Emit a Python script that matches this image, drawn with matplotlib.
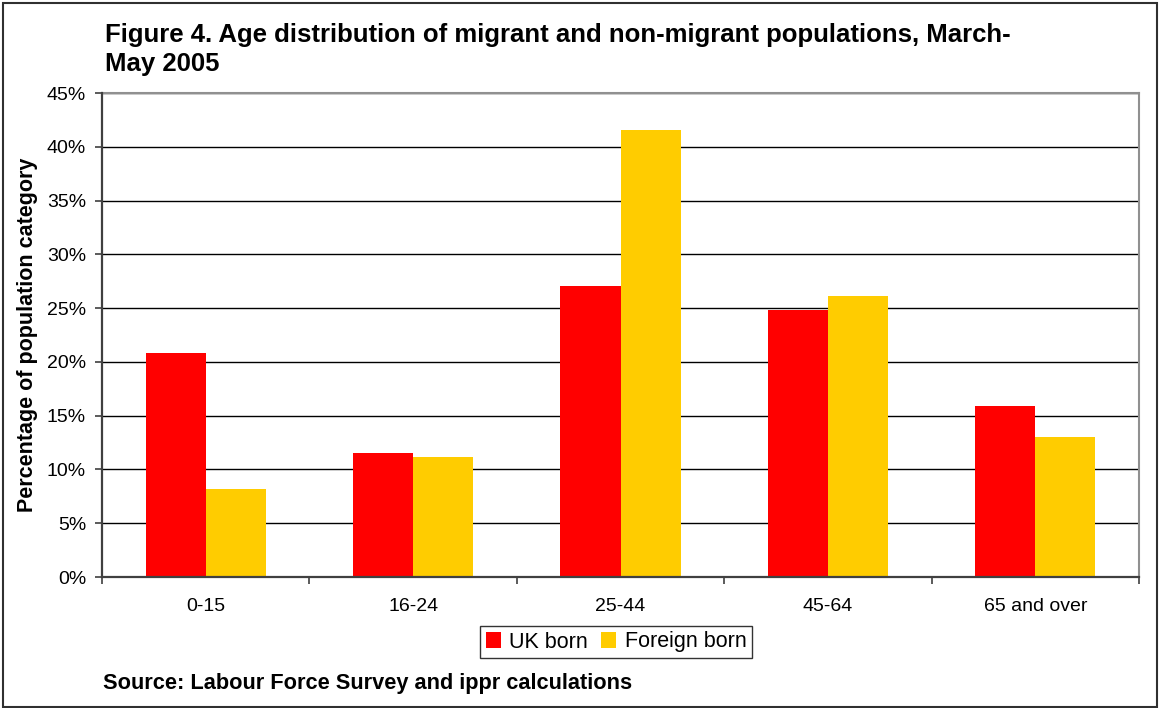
import matplotlib.pyplot as plt
import numpy as np
from matplotlib.patches import Rectangle

plt.rcParams['font.family'] = ['Liberation Sans', 'DejaVu Sans']

# Age bands and shares of each population (%)
age_groups = ["0-15", "16-24", "25-44", "45-64", "65 and over"]
uk_born = [20.8, 11.5, 27.1, 24.8, 15.9]
foreign_born = [8.2, 11.2, 41.6, 26.1, 13.0]
y_ticks = [0, 5, 10, 15, 20, 25, 30, 35, 40, 45]

fig = plt.figure(figsize=(11.59, 7.08), dpi=100)
ax = fig.add_axes([102 / 1159, 1 - 577 / 708, 1037 / 1159, 484 / 708])

x = np.arange(len(age_groups))
w = 0.29
ax.bar(x - w / 2, uk_born, w, color="#ff0000", label="UK born", zorder=3)
ax.bar(x + w / 2, foreign_born, w, color="#ffcc00", label="Foreign born", zorder=3)

ax.set_xlim(-0.5, len(age_groups) - 0.5)
ax.set_ylim(0, 45)
ax.set_yticks(y_ticks)
ax.set_yticklabels([f"{t}%" for t in y_ticks], fontsize=14)
ax.yaxis.grid(True, color="black", linewidth=1, zorder=0)

# category labels centred, tick marks between groups
ax.set_xticks(np.arange(len(age_groups) + 1) - 0.5)
ax.set_xticklabels([])
ax.set_xticks(x, minor=True)
ax.set_xticklabels(age_groups, minor=True, fontsize=14)
ax.tick_params(axis="x", which="minor", length=0, pad=15)
ax.tick_params(axis="x", which="major", length=5, width=1.2, color="#404040")
ax.tick_params(axis="y", length=5, width=1.2, color="#404040", pad=6.5)

for side in ("left", "bottom"):
    ax.spines[side].set_color("#404040")
    ax.spines[side].set_linewidth(1.6)
    ax.spines[side].set_zorder(4)
for side in ("top", "right"):
    ax.spines[side].set_color("#909090")
    ax.spines[side].set_linewidth(1.5)

ax.set_ylabel("Percentage of population category", fontsize=15.5,
              fontweight="bold")
ax.yaxis.set_label_coords(-0.062, 0.5)

fig.text(105 / 1159, 1 - 49.5 / 708,
         "Figure 4. Age distribution of migrant and non-migrant populations, March-\nMay 2005",
         fontsize=18.5, fontweight="bold", va="center", linespacing=1.28)

fig.text(103 / 1159, 1 - 684 / 708,
         "Source: Labour Force Survey and ippr calculations",
         fontsize=15.7, fontweight="bold", va="center")

leg = ax.legend(loc="center", bbox_to_anchor=(616 / 1159, 1 - 642 / 708),
                bbox_transform=fig.transFigure, ncol=2, fontsize=15.5,
                frameon=True, fancybox=False, edgecolor="black",
                handlelength=0.7, handleheight=0.7, handletextpad=0.4,
                columnspacing=0.6, borderpad=0.25, borderaxespad=0)
leg.get_frame().set_linewidth(1)

# outer chart frame
fig.patches.append(Rectangle((3 / 1159, 1 / 708), 1154 / 1159, 704 / 708,
                             transform=fig.transFigure, fill=False,
                             edgecolor="#303030", linewidth=1.5))

fig.savefig("out.png", dpi=100, facecolor="white")
